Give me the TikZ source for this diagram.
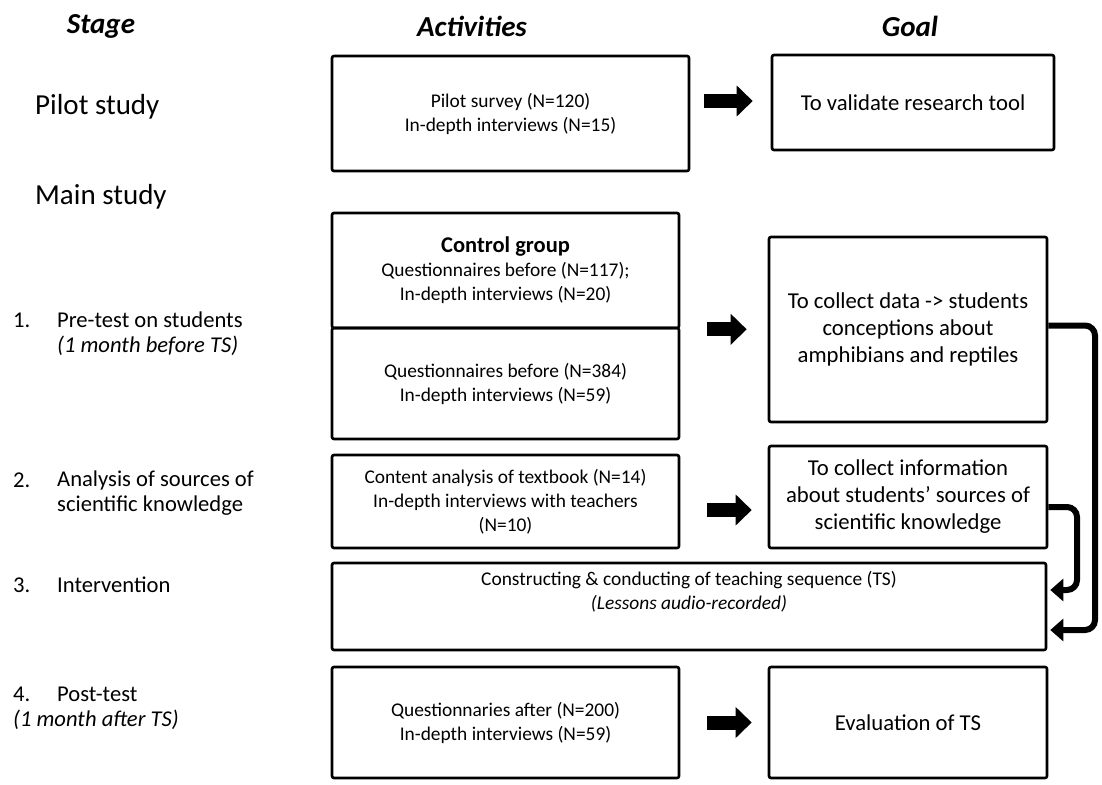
\documentclass[tikz,border=0pt]{standalone}
\usepackage{fontspec}
\setmainfont{Carlito}
\usetikzlibrary{arrows.meta,calc}
\begin{document}
\begin{tikzpicture}[x=1pt,y=-1pt,
  box/.style={draw, line width=2.6pt, rounded corners=2pt, align=center, inner sep=0pt},
  acttext/.style={font=\fontsize{19.4}{24}\selectfont},
  goaltext/.style={font=\fontsize{22.7}{27}\selectfont},
  stagetext/.style={font=\fontsize{22.6}{26}\selectfont, anchor=west, inner sep=0pt, align=left},
  head/.style={font=\fontsize{29}{32}\selectfont\bfseries\itshape},
  blockarrow/.style={line width=14pt, -{Triangle[length=16pt,width=30pt]}},
  conn/.style={line width=6pt, rounded corners=10pt, -{Triangle[length=13pt,width=22pt]}}]
\useasboundingbox (0,0) rectangle (1102,784);
% headers
\node[head] (hstage) at (101,26) {Stage};
\node[head] (hact) at (472,26) {Activities};
\node[head] (hgoal) at (910,26) {Goal};
% stage column
\node[stagetext, font=\fontsize{29}{32}\selectfont] (pilot) at (35,107) {Pilot study};
\node[stagetext, font=\fontsize{29}{32}\selectfont] (main) at (35,197) {Main study};
\node[stagetext] (n1) at (13,320) {1.};
\node[stagetext] (s1) at (57,320) {Pre-test on students};
\node[stagetext] (s1b) at (57,346) {\itshape (1 month before TS)};
\node[stagetext] (n2) at (13,480) {2.};
\node[stagetext] (s2) at (57,480) {Analysis of sources of};
\node[stagetext] (s2b) at (57,506) {scientific knowledge};
\node[stagetext] (n3) at (13,585) {3.};
\node[stagetext] (s3) at (57,585) {Intervention};
\node[stagetext] (n4) at (13,694) {4.};
\node[stagetext] (s4) at (57,694) {Post-test};
\node[stagetext] (s4b) at (13,720) {\itshape (1 month after TS)};
% activity boxes
\node[box, acttext, minimum width=357pt, minimum height=115pt] (pilotact) at (510.5,113.5)
  {Pilot survey (N=120)\\In-depth interviews (N=15)};
\node[box, acttext, minimum width=347pt, minimum height=115pt] (ctrl) at (505.5,270.5)
  {\textbf{\fontsize{22.5}{25}\selectfont Control group}\\Questionnaires before (N=117);\\In-depth interviews (N=20)};
\node[box, acttext, minimum width=347pt, minimum height=111pt] (exp) at (505.5,383.5)
  {Questionnaires before (N=384)\\In-depth interviews (N=59)};
\node[box, acttext, minimum width=347pt, minimum height=93pt] (content) at (505.5,501.5)
  {Content analysis of textbook (N=14)\\In-depth interviews with teachers\\(N=10)};
\node[box, minimum width=714pt, minimum height=87pt] (interv) at (689,606.5) {};
\node[acttext, align=center] (intxt) at (689,592)
  {Constructing \& conducting of teaching sequence (TS)\\\itshape (Lessons audio-recorded)};
\node[box, acttext, minimum width=347pt, minimum height=111pt] (post) at (505.5,722.5)
  {Questionnaries after (N=200)\\In-depth interviews (N=59)};
% goal boxes
\node[box, goaltext, minimum width=282pt, minimum height=95pt] (goal1) at (913,102.5)
  {To validate research tool};
\node[box, goaltext, minimum width=278pt, minimum height=185pt] (goal2) at (908,329.5)
  {To collect data -> students\\conceptions about\\amphibians and reptiles};
\node[box, goaltext, minimum width=278pt, minimum height=102pt] (goal3) at (908,497)
  {To collect information\\about students’ sources of\\scientific knowledge};
\node[box, goaltext, minimum width=278pt, minimum height=111pt] (goal4) at (908,722.5)
  {Evaluation of TS};
% block arrows
\draw[blockarrow, shorten <=14pt, shorten >=18pt] ([yshift=12.5pt]pilotact.east) -- ([yshift=12.5pt]pilotact.east -| goal1.west);
\draw[blockarrow, shorten <=27pt, shorten >=21pt] (ctrl.south east) -- (ctrl.south east -| goal2.west);
\draw[blockarrow, shorten <=27pt, shorten >=16pt] ([yshift=-8.5pt]content.east) -- ([yshift=-8.5pt]content.east -| goal3.west);
\draw[blockarrow, shorten <=27pt, shorten >=16pt] (post.east) -- (post.east -| goal4.west);
% feedback connectors
\coordinate (r1) at (1095,0);
\coordinate (r2) at (1077,0);
\coordinate (t1) at ([yshift=-23.5pt]interv.east);
\coordinate (t2) at ([yshift=16.5pt]interv.east);
\draw[conn, shorten >=3pt] ([yshift=4pt]goal2.east) -- ([yshift=4pt]goal2.east -| r1) -- (r1 |- t1) -- (t1);
\draw[conn, shorten >=3pt] ([yshift=-10pt]goal3.east) -- ([yshift=-10pt]goal3.east -| r2) -- (r2 |- t2) -- (t2);
\end{tikzpicture}
\end{document}
